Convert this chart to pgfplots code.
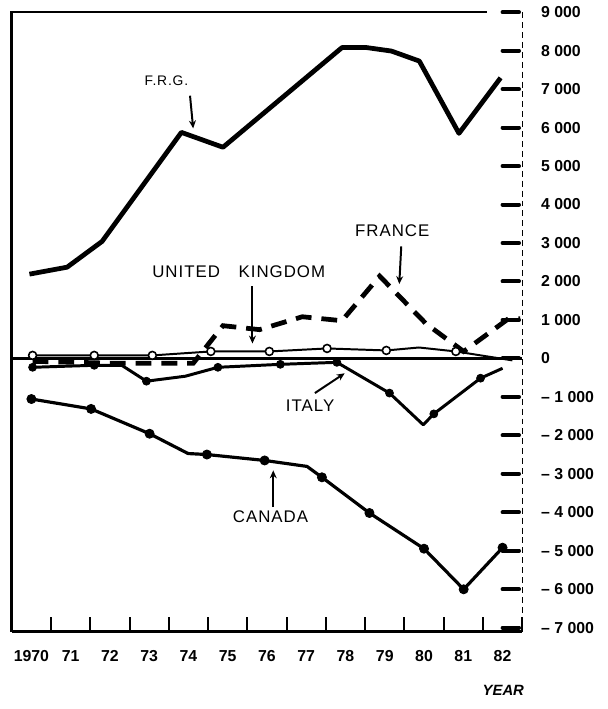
\documentclass[border=0pt]{standalone}
\usepackage{fontspec}
\setmainfont{Liberation Sans}
\newfontfamily\lblfont[LetterSpace=6]{Liberation Sans}
\usepackage{pgfplots}
\pgfplotsset{compat=1.18}
\usetikzlibrary{arrows.meta}
\begin{document}
\begin{tikzpicture}
\begin{axis}[
  scale only axis,
  width=257.5pt, height=312.6pt,
  xmin=1970, xmax=1983,
  ymin=-7110, ymax=9000,
  clip=false,
  axis line style={draw=none},
  major tick length=0pt,
  /pgf/number format/assume math mode=true,
  xtick={1970.5,1971.5,1972.5,1973.5,1974.5,1975.5,1976.5,1977.5,1978.5,1979.5,1980.5,1981.5,1982.5},
  xticklabels={1970,71,72,73,74,75,76,77,78,79,80,81,82},
  xtick pos=bottom,
  xticklabel style={font=\bfseries\fontsize{8}{9}\selectfont, yshift=-6pt},
  ytick={-7000,-6000,-5000,-4000,-3000,-2000,-1000,0,1000,2000,3000,4000,5000,6000,7000,8000,9000},
  yticklabels={– 7 000,– 6 000,– 5 000,– 4 000,– 3 000,– 2 000,– 1 000,0,1 000,2 000,3 000,4 000,5 000,6 000,7 000,8 000,9 000},
  ytick pos=right, yticklabel pos=right,
  yticklabel style={font=\bfseries\fontsize{8}{9}\selectfont, anchor=west, xshift=6pt},
]
% bounding box matching reference proportions
\path (axis cs:1969.70,9277) rectangle (axis cs:1985.17,-9116);
% frame
\draw[line width=1.3pt] (axis cs:1970,-7110) -- (axis cs:1970,9000) -- (axis cs:1982.1,9000);
\draw[line width=1.6pt] (axis cs:1970,-7110) -- (axis cs:1983,-7110);
\draw[line width=0.6pt, densely dashed] (axis cs:1983,9000) -- (axis cs:1983,-7110);
% x ticks
\pgfplotsinvokeforeach{1971,1972,1973,1974,1975,1976,1977,1978,1979,1980,1981,1982,1983}{
  \draw[line width=1pt] (axis cs:#1,-7110) -- (axis cs:#1,-6720);
}
% y ticks
\pgfplotsinvokeforeach{-7000,-6000,-5000,-4000,-3000,-2000,-1000,0,1000,2000,3000,4000,5000,6000,7000,8000,9000}{
  \draw[line width=2pt, line cap=round] (axis cs:1982.5,#1) -- (axis cs:1982.92,#1);
}
% F.R.G.
\addplot[black, line width=2.4pt, line join=round] coordinates {
 (1970.45,2190) (1971.41,2371) (1972.30,3041) (1974.32,5876) (1975.38,5489)
 (1978.41,8080) (1979.04,8080) (1979.67,7990) (1980.38,7730) (1981.39,5850) (1982.45,7293)};
% France
\addplot[black, line width=2.4pt, dash pattern=on 8pt off 5pt] coordinates {
 (1970.53,-77) (1972.73,-129) (1974.62,-129) (1975.38,850) (1976.31,747) (1977.40,1082)
 (1978.41,979) (1979.37,2139) (1980.55,902) (1981.51,180) (1982.65,1031) (1982.95,1031)};
% zero line
\addplot[black, line width=1.8pt] coordinates {(1970,0) (1983,0)};
% United Kingdom
\addplot[black, line width=1pt] coordinates {
 (1970.53,77) (1972.10,77) (1973.58,77) (1975.07,180) (1976.56,180) (1978.03,258)
 (1979.54,206) (1980.37,283) (1981.31,180) (1982.75,-52)};
\addplot[only marks, mark=*, mark size=2pt, mark options={fill=white, draw=black, line width=0.8pt}] coordinates {
 (1970.53,77) (1972.10,77) (1973.58,77) (1975.07,180) (1976.56,180) (1978.03,258)
 (1979.54,206) (1981.31,180)};
% Italy
\addplot[black, line width=1.5pt, line join=round] coordinates {
 (1970.53,-232) (1972.10,-180) (1972.80,-180) (1973.43,-593) (1974.42,-464) (1975.25,-232)
 (1976.84,-155) (1978.28,-103) (1979.62,-902) (1980.48,-1727) (1980.75,-1443) (1981.94,-515) (1982.50,-258)};
\addplot[only marks, mark=*, mark size=2pt, black] coordinates {
 (1970.53,-232) (1972.10,-180) (1973.43,-593) (1975.25,-232) (1976.84,-155)
 (1978.28,-103) (1979.62,-902) (1980.75,-1443) (1981.94,-515)};
% Canada
\addplot[black, line width=1.6pt, line join=round] coordinates {
 (1970.50,-1057) (1972.02,-1314) (1973.51,-1959) (1974.49,-2474) (1974.97,-2500) (1976.44,-2654)
 (1977.52,-2809) (1977.90,-3092) (1979.11,-4020) (1980.50,-4948) (1981.51,-6004) (1982.50,-4922)};
\addplot[only marks, mark=*, mark size=2.3pt, black] coordinates {
 (1970.50,-1057) (1972.02,-1314) (1973.51,-1959) (1974.97,-2500) (1976.44,-2654)
 (1977.90,-3092) (1979.11,-4020) (1980.50,-4948) (1981.51,-6004) (1982.50,-4922)};
% annotations
\tikzset{lbl/.style={font=\lblfont\fontsize{8.5}{9}\selectfont, inner sep=0pt},
         arr/.style={line width=1pt, -{Stealth[length=4pt,width=3.5pt]}}}
\node[lbl, font=\lblfont\fontsize{7}{8}\selectfont] at (axis cs:1973.94,7216) {F.R.G.};
\draw[arr] (axis cs:1974.54,6829) -- (axis cs:1974.62,5979);
\node[lbl] at (axis cs:1975.78,2242) {UNITED\hspace{1.1em}KINGDOM};
\draw[arr] (axis cs:1976.13,1881) -- (axis cs:1976.13,387);
\node[lbl] at (axis cs:1979.69,3324) {FRANCE};
\draw[arr] (axis cs:1979.92,2912) -- (axis cs:1979.87,1933);
\node[lbl] at (axis cs:1977.60,-1237) {ITALY};
\draw[arr] (axis cs:1977.72,-902) -- (axis cs:1978.48,-387);
\node[lbl] at (axis cs:1976.59,-4123) {CANADA};
\draw[arr] (axis cs:1976.66,-3866) -- (axis cs:1976.66,-2912);
\node[inner sep=0pt, font=\bfseries\itshape\fontsize{7.5}{8}\selectfont] at (axis cs:1982.52,-8633) {YEAR};
\end{axis}
\end{tikzpicture}
\end{document}
